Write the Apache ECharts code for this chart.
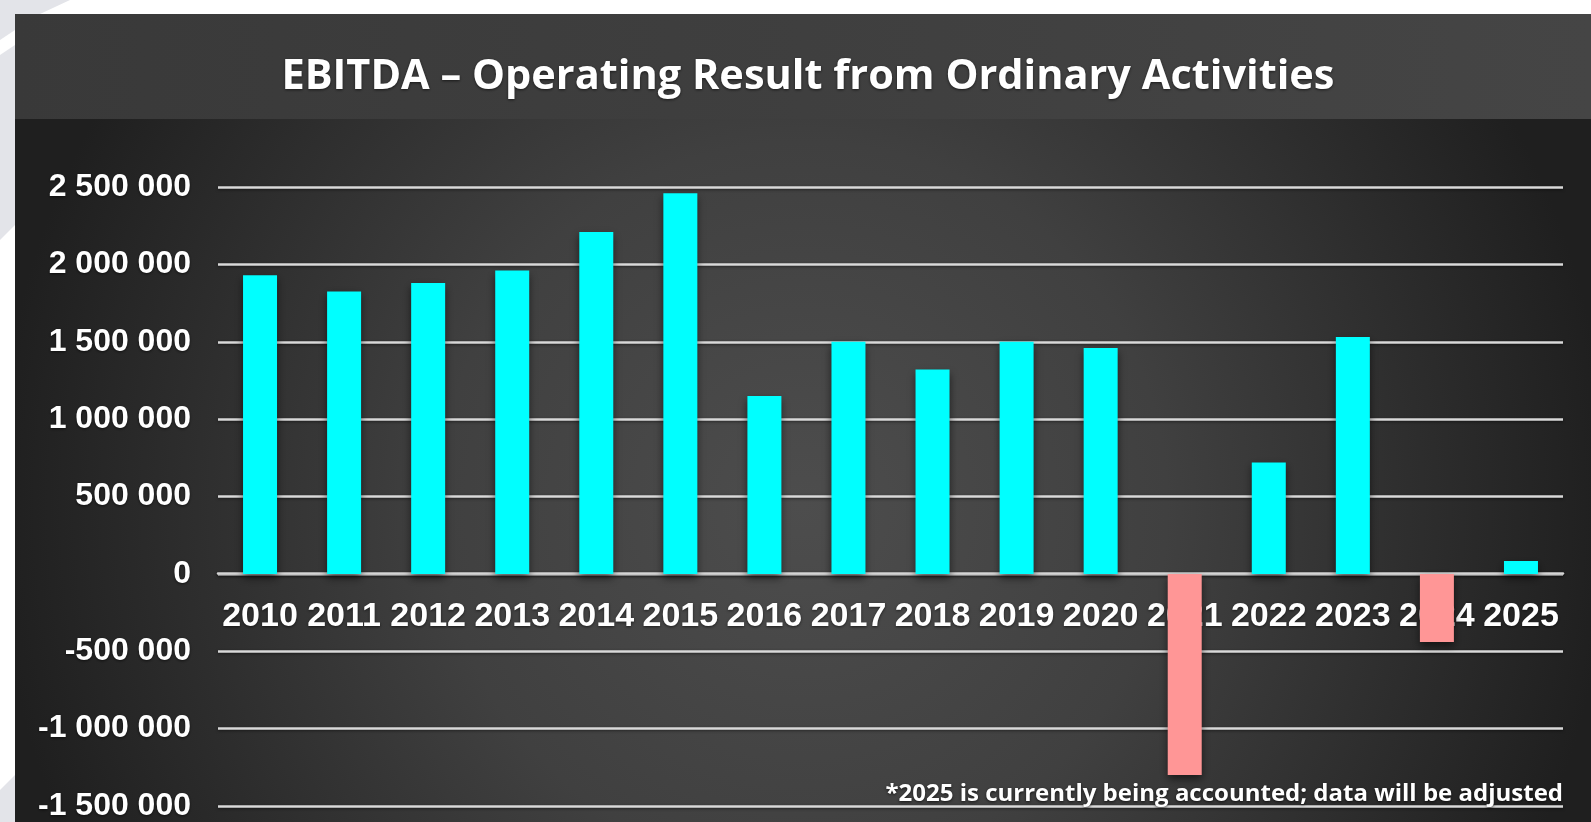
<!DOCTYPE html>
<html lang="en">

<head>
    <meta charset="UTF-8">
    <title>EBITDA</title>
    <style>
        html, body { margin: 0; padding: 0; background: #fff; }
    </style>
</head>

<body>
    <div id="main" style="width: 1591px; height: 822px"></div>
    <script src="https://cdn.jsdelivr.net/npm/echarts@6/dist/echarts.min.js"></script>
    <script type="text/javascript">
        // data
        var years = ['2010', '2011', '2012', '2013', '2014', '2015', '2016', '2017',
            '2018', '2019', '2020', '2021', '2022', '2023', '2024', '2025'];
        var ebitda = [1930000, 1825000, 1880000, 1960000, 2210000, 2460000, 1150000, 1500000,
            1320000, 1500000, 1460000, -1300000, 720000, 1530000, -440000, 84000];
        var yTicks = { min: -1500000, max: 2500000, step: 500000 };
        var titleText = 'EBITDA \u2013 Operating Result from Ordinary Activities';
        var noteText = '*2025 is currently being accounted; data will be adjusted';

        var myChart = echarts.init(document.getElementById('main'));

        function spaced(v) {
            return String(v).replace(/\B(?=(\d{3})+(?!\d))/g, ' ');
        }

        // grid: top 187, bottom 808 -> zero line sits this far above the bottom
        var gridTop = 187, gridBottom = 808;
        var zeroY = gridTop + (yTicks.max / (yTicks.max - yTicks.min)) * (gridBottom - gridTop);

        var option = {
            backgroundColor: '#ffffff',
            animation: false,
            graphic: [
                // light grey decoration left of the panel
                { type: 'polygon', z: -10, shape: { points: [[0, 0], [70, 0], [40, 14], [15, 14], [15, 30], [0, 40]] }, style: { fill: '#e3e4e9' } },
                { type: 'polygon', z: -10, shape: { points: [[0, 55], [15, 45], [15, 225], [0, 240]] }, style: { fill: '#e3e4e9' } },
                { type: 'polygon', z: -10, shape: { points: [[0, 790], [15, 775], [15, 822], [0, 822]] }, style: { fill: '#e3e4e9' } },
                // dark plot panel
                {
                    type: 'rect', z: -9, shape: { x: 15, y: 119, width: 1576, height: 703 },
                    style: {
                        fill: new echarts.graphic.RadialGradient(0.5, 0.55, 1.15, [
                            { offset: 0, color: '#4d4d4d' },
                            { offset: 0.45, color: '#404040' },
                            { offset: 1, color: '#1f1f1f' }
                        ])
                    }
                },
                // title bar
                {
                    type: 'rect', z: -9, shape: { x: 15, y: 14, width: 1576, height: 105 },
                    style: {
                        fill: new echarts.graphic.LinearGradient(0, 0, 1, 0, [
                            { offset: 0, color: '#393939' },
                            { offset: 1, color: '#454545' }
                        ])
                    }
                },
                {
                    type: 'text', z: 10, x: 808, y: 77,
                    style: {
                        text: titleText, fill: '#ffffff', align: 'center', verticalAlign: 'middle',
                        font: 'bold 41.5px "Open Sans"', textShadowColor: 'rgba(0,0,0,0.6)', textShadowBlur: 3, textShadowOffsetY: 1
                    }
                },
                {
                    type: 'text', z: 10, x: 1563, y: 794,
                    style: {
                        text: noteText, fill: '#ffffff', align: 'right', verticalAlign: 'middle',
                        font: 'bold 24px "Open Sans"', textShadowColor: 'rgba(0,0,0,0.7)', textShadowBlur: 3, textShadowOffsetY: 1
                    }
                }
            ],
            grid: {
                left: 218,
                right: 28,
                top: gridTop,
                bottom: 822 - gridBottom,
                containLabel: false
            },
            xAxis: {
                type: 'category',
                data: years,
                position: 'bottom',
                offset: -(gridBottom - zeroY),
                axisLine: {
                    show: true,
                    onZero: false,
                    lineStyle: { color: '#d4d4d4', width: 2.5, shadowColor: 'rgba(0,0,0,0.5)', shadowBlur: 3, shadowOffsetY: 1 }
                },
                axisTick: { show: false },
                axisLabel: {
                    color: '#ffffff',
                    fontFamily: 'Liberation Sans',
                    fontWeight: 'bold',
                    fontSize: 34,
                    margin: 26,
                    interval: 0,
                    textShadowColor: 'rgba(0,0,0,0.6)',
                    textShadowBlur: 3,
                    textShadowOffsetY: 1
                }
            },
            yAxis: {
                type: 'value',
                min: yTicks.min,
                max: yTicks.max,
                interval: yTicks.step,
                axisLine: { show: false },
                axisTick: { show: false },
                axisLabel: {
                    color: '#ffffff',
                    fontFamily: 'Liberation Sans',
                    fontWeight: 'bold',
                    fontSize: 32,
                    margin: 27,
                    formatter: spaced,
                    textShadowColor: 'rgba(0,0,0,0.6)',
                    textShadowBlur: 3,
                    textShadowOffsetY: 1
                },
                splitLine: {
                    lineStyle: { color: '#d9d9d9', width: 2.5, shadowColor: 'rgba(0,0,0,0.5)', shadowBlur: 3, shadowOffsetY: 1 }
                }
            },
            series: [{
                name: 'EBITDA',
                type: 'bar',
                barWidth: 34,
                data: ebitda,
                z: 3,
                itemStyle: {
                    color: function (p) {
                        return p.value < 0 ? '#ff9696' : '#00ffff';
                    },
                    shadowColor: 'rgba(0,0,0,0.55)',
                    shadowBlur: 8,
                    shadowOffsetY: 4
                }
            }]
        };
        myChart.setOption(option);
    </script>

</body>

</html>
